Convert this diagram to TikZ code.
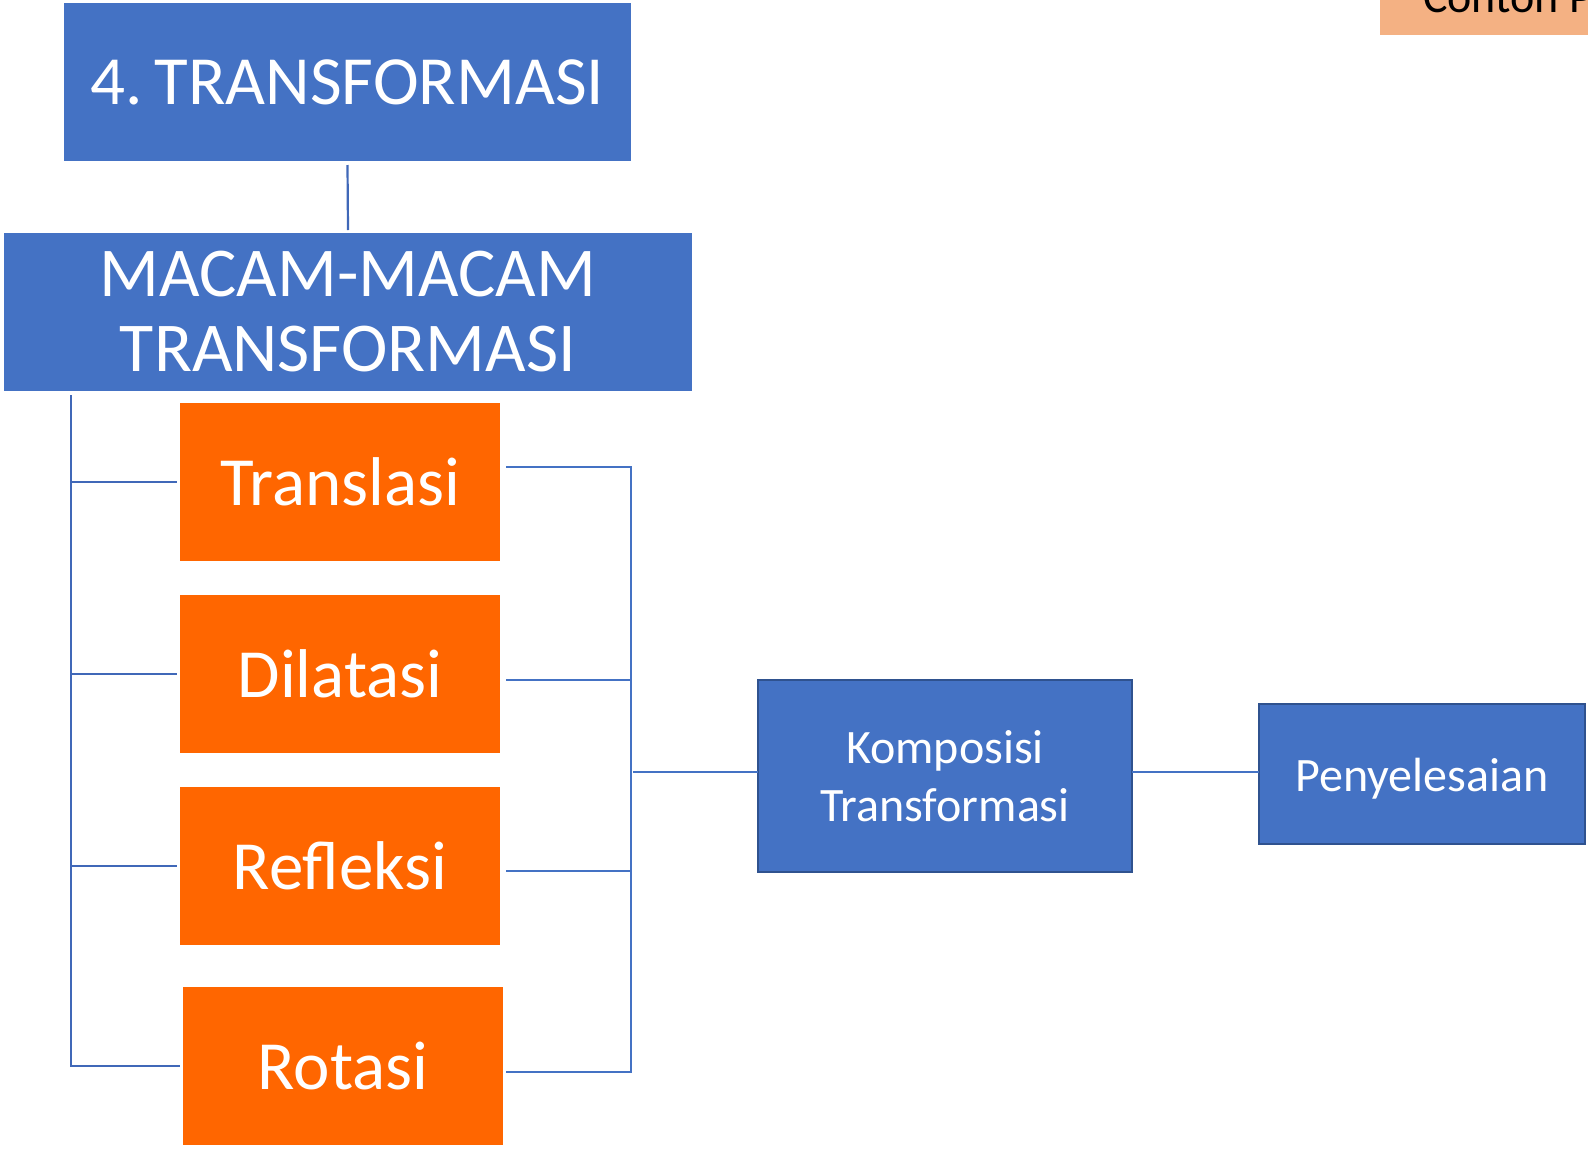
\documentclass[tikz,border=0pt]{standalone}
\usepackage{fontspec}
\setmainfont{Carlito}
\definecolor{bluefill}{HTML}{4472C4}
\definecolor{blueedge}{HTML}{2F528F}
\definecolor{orangefill}{HTML}{FF6600}
\definecolor{peach}{HTML}{F4B183}
\definecolor{treeline}{HTML}{4068B8}
\begin{document}
\begin{tikzpicture}[x=1pt,y=-1pt,
  base/.style={inner sep=0pt, outer sep=0pt, anchor=north west, align=center, text=white},
  bigblue/.style={base, fill=bluefill},
  orangebox/.style={base, fill=orangefill, minimum width=320pt, minimum height=158pt, font=\fontsize{69}{80}\selectfont},
  smallblue/.style={base, fill=bluefill, draw=blueedge, line width=2pt, font=\fontsize{48}{58}\selectfont},
  treelink/.style={draw=treeline, line width=2.6pt},
  thinlink/.style={draw=bluefill, line width=1.4pt}]
\useasboundingbox (0,0) rectangle (1588,1149);

% top-right partially visible box
\begin{scope}
\clip (0,0) rectangle (1588,1149);
\fill[peach] (1380,0) rectangle (1588,35);
\node[anchor=base west, inner sep=0pt, text=black, font=\fontsize{46}{50}\selectfont] (contoh) at (1423,12) {Contoh Penyelesaian};
\end{scope}

\node[bigblue, minimum width=567pt, minimum height=158pt, font=\fontsize{69}{80}\selectfont] (title) at (64,3) {4.\,TRANSFORMASI};
\node[bigblue, minimum width=688pt, minimum height=158pt, font=\fontsize{70}{75}\selectfont] (macam) at (4,233) {MACAM-MACAM\\TRANSFORMASI};

\node[orangebox] (tr) at (180,403) {Translasi};
\node[orangebox] (di) at (180,595) {Dilatasi};
\node[orangebox] (re) at (180,787) {Refleksi};
\node[orangebox] (ro) at (183,987) {Rotasi};

\node[smallblue, minimum width=374pt, minimum height=192pt] (komp) at (758,680) {Komposisi\\Transformasi};
\node[smallblue, minimum width=326pt, minimum height=140pt, text height=36pt, text depth=10pt] (peny) at (1259,704) {\raisebox{-4pt}{Penyelesaian}};

% title to macam
\draw[treelink, line width=2.2pt] ([yshift=-4pt]title.south) -- ([yshift=3pt]macam.north);

% left tree
\coordinate (trunk) at (71,395);
\draw[treelink] (trunk) |- ([xshift=-3pt]ro.west);
\draw[treelink] (trunk |- tr.west) -- ([xshift=-3pt]tr.west);
\draw[treelink] (trunk |- di.west) -- ([xshift=-3pt]di.west);
\draw[treelink] (trunk |- re.west) -- ([xshift=-3pt]re.west);

% right collector
\coordinate (coll) at (631,772);
\draw[thinlink] ([xshift=6pt]tr.east |- 0,467) -- (631,467) -- (631,1072) -- ([xshift=3pt]ro.east |- 0,1072);
\draw[thinlink] ([xshift=6pt]di.east |- 0,680) -- (631,680);
\draw[thinlink] ([xshift=6pt]re.east |- 0,871) -- (631,871);
\draw[thinlink] ([xshift=2pt]coll) -- (komp.west |- coll);
\draw[thinlink] (komp.east |- coll) -- (peny.west |- coll);
\end{tikzpicture}
\end{document}
